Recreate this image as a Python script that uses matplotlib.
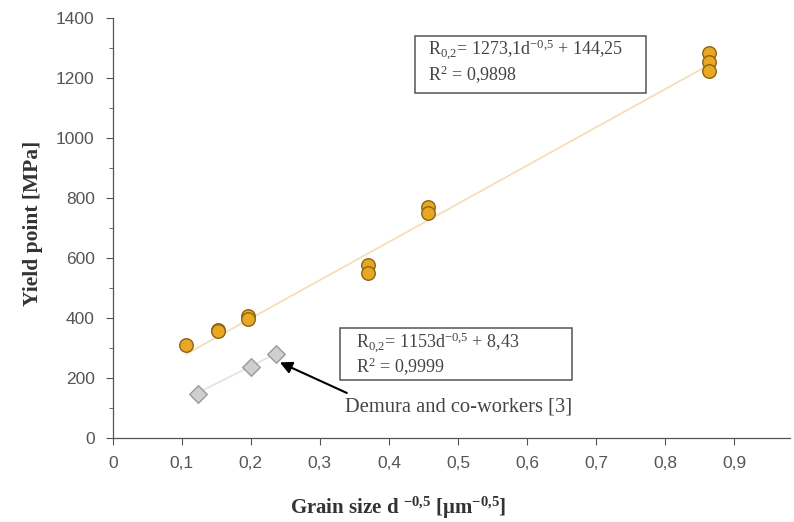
import numpy as np
import matplotlib
matplotlib.use('Agg')
import matplotlib.pyplot as plt
from matplotlib.patches import Rectangle
from matplotlib.ticker import MultipleLocator, FuncFormatter

plt.rcParams['mathtext.fontset'] = 'custom'
plt.rcParams['mathtext.rm'] = 'Liberation Serif'
plt.rcParams['mathtext.it'] = 'Liberation Serif:italic'
plt.rcParams['mathtext.bf'] = 'Liberation Serif:bold'

# orange series: yield point vs grain size
x_own = [0.106, 0.152, 0.152, 0.196, 0.196, 0.370, 0.370, 0.456, 0.456, 0.863, 0.863, 0.863]
y_own = [310, 360, 355, 405, 398, 575, 550, 770, 750, 1285, 1255, 1225]
# Demura and co-workers
x_dem = [0.124, 0.200, 0.236]
y_dem = [148, 235, 280]
# fits
fit_own = (1273.1, 144.25)
fit_dem = (1153.0, 8.43)

fig = plt.figure(figsize=(7.94, 5.22), dpi=100)
ax = fig.add_axes([0.142, 0.161, 0.853, 0.8045])

xs = np.array([min(x_own), max(x_own)])
ax.plot(xs, fit_own[0]*xs + fit_own[1], color='#f6dcb0', lw=1.2, zorder=1)
xs = np.array([min(x_dem), max(x_dem)])
ax.plot(xs, fit_dem[0]*xs + fit_dem[1], color='#e2e2e2', lw=1.2, zorder=1)

ax.scatter(x_own, y_own, s=95, marker='o', facecolor='#e9a823', edgecolor='#8c6414', lw=1.0, zorder=3)
ax.scatter(x_dem, y_dem, s=80, marker='D', facecolor='#cfcfcf', edgecolor='#9a9a9a', lw=1.0, zorder=3)

ax.set_xlim(0, 0.981)
ax.set_ylim(0, 1400)
ax.xaxis.set_major_locator(MultipleLocator(0.1))
ax.yaxis.set_major_locator(MultipleLocator(200))
ax.yaxis.set_minor_locator(MultipleLocator(100))
ax.xaxis.set_major_formatter(FuncFormatter(lambda v, p: ('%g' % round(v, 1)).replace('.', ',')))
for s in ['top', 'right']:
    ax.spines[s].set_visible(False)
for s in ['left', 'bottom']:
    ax.spines[s].set_color('#555555')
    ax.spines[s].set_linewidth(0.9)
ax.tick_params(which='both', direction='out', colors='#555555', labelcolor='#555555', labelsize=12.5)
ax.tick_params(which='major', length=5)
ax.tick_params(which='minor', length=3)
ax.tick_params(axis='x', pad=8)
ax.tick_params(axis='y', pad=8)
for lab in ax.get_xticklabels() + ax.get_yticklabels():
    lab.set_family('Liberation Sans')

ax.set_ylabel('Yield point [MPa]', family='Liberation Serif', weight='bold', fontsize=15.5, color='#333333')
ax.set_xlabel(r'Grain size d $^{\mathbf{-0{,}5}}$ [$\mathbf{\mu}$m$^{\mathbf{-0{,}5}}$]', family='Liberation Serif',
              weight='bold', fontsize=15, color='#333333')
ax.yaxis.set_label_coords(-0.103, 0.51)
ax.xaxis.set_label_coords(0.421, -0.135)

# equation boxes
ax.add_patch(Rectangle((0.438, 1150), 0.334, 190, facecolor='white', edgecolor='#555555', lw=1.1, zorder=4))
ax.add_patch(Rectangle((0.329, 193), 0.336, 174, facecolor='white', edgecolor='#555555', lw=1.1, zorder=4))
ax.text(0.457, 1293, 'R$_{0{,}2}$= 1273,1d$^{-0{,}5}$ + 144,25', family='Liberation Serif',
        fontsize=13, color='#444444', va='center', ha='left', zorder=5)
ax.text(0.457, 1210, 'R$^{2}$ = 0,9898', family='Liberation Serif',
        fontsize=13, color='#444444', va='center', ha='left', zorder=5)
ax.text(0.352, 317, 'R$_{0{,}2}$= 1153d$^{-0{,}5}$ + 8,43', family='Liberation Serif',
        fontsize=13, color='#444444', va='center', ha='left', zorder=5)
ax.text(0.352, 238, 'R$^{2}$ = 0,9999', family='Liberation Serif',
        fontsize=13, color='#444444', va='center', ha='left', zorder=5)
ax.text(0.336, 102, 'Demura and co-workers [3]', family='Liberation Serif',
        fontsize=14.8, color='#444444', va='center', ha='left')
ax.annotate('', xy=(0.242, 252), xytext=(0.339, 150),
            arrowprops=dict(arrowstyle='-|>', color='black', lw=1.5, mutation_scale=18,
                            shrinkA=0, shrinkB=0))

plt.savefig('out.png', dpi=100)
